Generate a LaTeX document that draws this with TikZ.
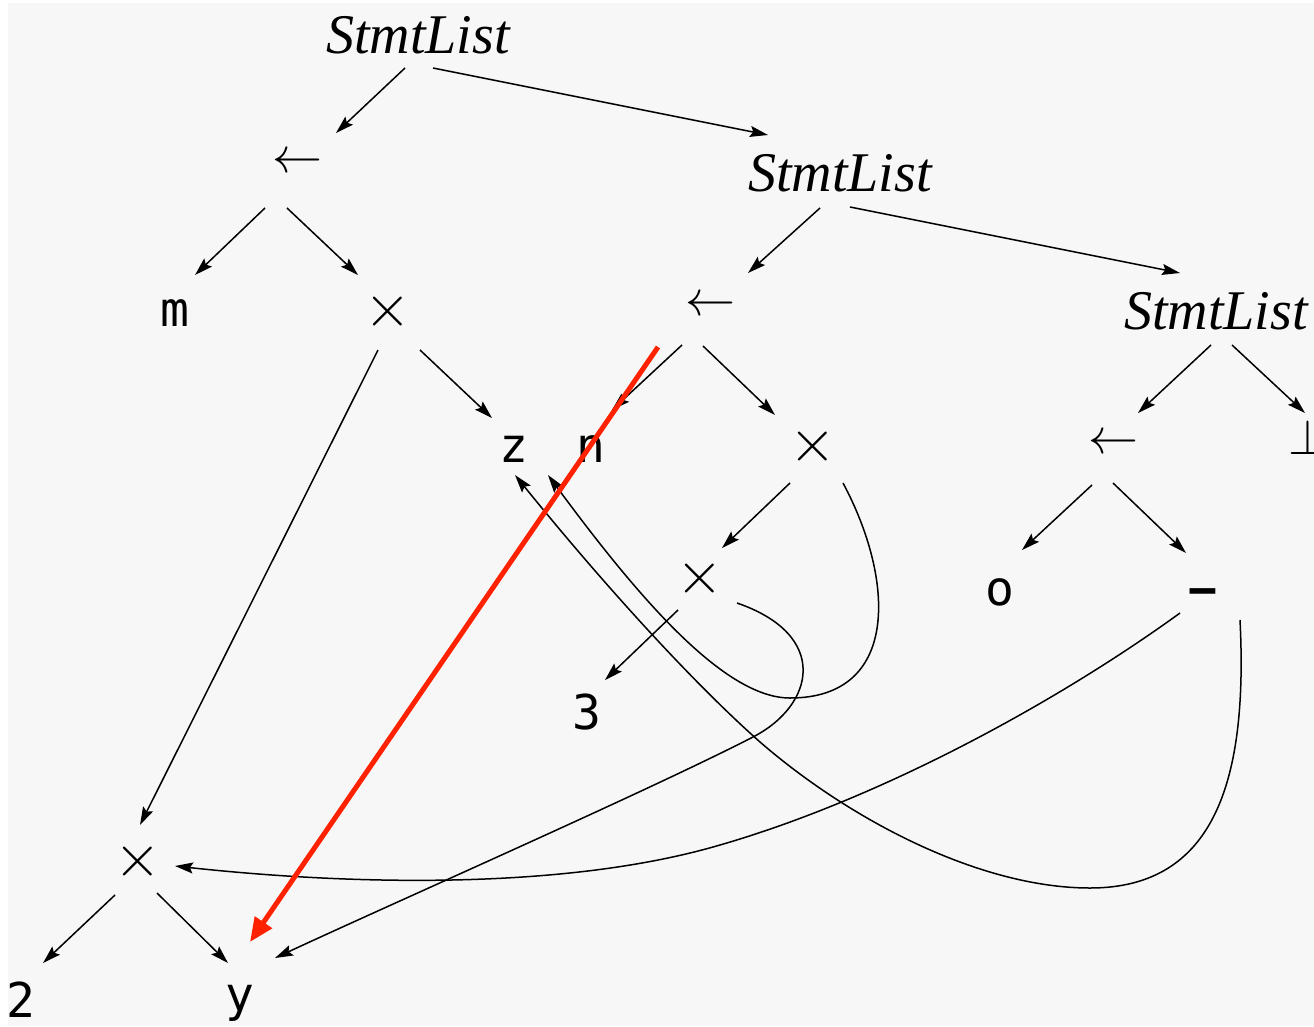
\RequirePackage{fix-cm}
\documentclass[tikz,border=0pt]{standalone}
\usepackage{fontspec}
\usetikzlibrary{calc,arrows.meta}
\newfontfamily\slfont{Liberation Serif}
\newfontfamily\vfont{DejaVu Sans Mono}
\definecolor{bggray}{HTML}{F7F7F7}
\definecolor{hlred}{HTML}{FF2200}
\tikzset{
  sltxt/.style={inner sep=0pt, font=\slfont\itshape\fontsize{56}{60}\selectfont},
  varn/.style={inner sep=0pt, font=\vfont\fontsize{48}{50}\selectfont},
  opsym/.style={inner sep=0pt, font=\fontsize{50}{52}\selectfont},
  opx/.style={inner sep=0pt, font=\fontsize{60}{62}\selectfont},
  conn/.style={line width=1.5pt, -{Stealth[length=18pt,width=11pt,inset=3pt]}},
  hlarrow/.style={line width=5pt, color=hlred, -{Triangle[length=24pt,width=20pt]}}
}
\begin{document}
\begin{tikzpicture}[x=1pt,y=-1pt]
\useasboundingbox (0,0) rectangle (1314,1026);
\fill[white] (0,0) rectangle (1314,1026);
\fill[bggray] (8,3) rectangle (1314,1026);

\node[sltxt] (sl1) at (418,35) {StmtList};
\node[opsym] (la1) at (297,163) {$\leftarrow$};
\node[sltxt] (sl2) at (840,173) {StmtList};
\node[varn] (m) at (175,313) {m};
\node[opx] (xa) at (388,311) {$\times$};
\node[opsym] (la2) at (710,306) {$\leftarrow$};
\node[sltxt] (sl3) at (1216,311) {StmtList};
\node[varn] (z) at (514,449) {z};
\node[varn] (n) at (591,449) {n};
\node[opx] (xb) at (813,446) {$\times$};
\node[opsym] (la3) at (1113,444) {$\leftarrow$};
\node[opsym] (bot) at (1308,437) {$\bot$};
\node[opx] (xc) at (700,578) {$\times$};
\node[varn] (o) at (1000,592) {o};
\node[varn, font=\vfont\bfseries\fontsize{48}{50}\selectfont] (minus) at (1203,598) {−};
\node[varn] (three) at (587,712) {3};
\node[opx] (xd) at (138,861) {$\times$};
\node[varn] (two) at (21,1000) {2};
\node[varn] (y) at (240,1003) {y};

% tree edges
\draw[conn] ($(sl1)+(-13,33)$) -- ($(la1)+(39,-30)$);
\draw[conn] ($(sl1)+(15,33)$) -- ($(sl2)+(-72,-38)$);
\draw[conn] ($(la1)+(-32,45)$) -- ($(m)+(20,-38)$);
\draw[conn] ($(la1)+(-10,45)$) -- ($(xa)+(-30,-36)$);
\draw[conn] ($(sl2)+(-20,35)$) -- ($(la2)+(38,-33)$);
\draw[conn] ($(sl2)+(10,34)$) -- ($(sl3)+(-36,-38)$);
\draw[conn] ($(la2)+(-28,39)$) -- ($(n)+(21,-39)$);
\draw[conn] ($(la2)+(-7,40)$) -- ($(xb)+(-38,-31)$);
\draw[conn] ($(xa)+(-10,39)$) -- ($(xd)+(2,-36)$);
\draw[conn] ($(xa)+(32,39)$) -- ($(z)+(-22,-31)$);
\draw[conn] ($(sl3)+(-5,34)$) -- ($(la3)+(25,-31)$);
\draw[conn] ($(sl3)+(16,34)$) -- ($(bot)+(-3,-24)$);
\draw[conn] ($(xb)+(-23,37)$) -- ($(xc)+(22,-30)$);
\draw[conn] ($(la3)+(-21,41)$) -- ($(o)+(22,-42)$);
\draw[conn] ($(la3)+(0,39)$) -- ($(minus)+(-17,-45)$);
\draw[conn] ($(xc)+(-22,32)$) -- ($(three)+(18,-32)$);
\draw[conn] ($(xd)+(-23,34)$) -- ($(two)+(22,-37)$);
\draw[conn] ($(xd)+(19,32)$) -- ($(y)+(-12,-40)$);

% shared (DAG) edges
\draw[conn] ($(xb)+(30,37)$) .. controls (895,580) and (900,698) .. (790,698)
  .. controls (725,698) and (640,600) .. ($(z)+(34,26)$);
\draw[conn] ($(minus)+(37,22)$) .. controls (1248,780) and (1215,888) .. (1090,888)
  .. controls (980,888) and (850,820) .. (760,742)
  .. controls (690,680) and (600,580) .. ($(z)+(1,26)$);
\draw[conn] ($(xc)+(37,25)$) .. controls (830,635) and (815,705) .. (753,737)
  .. controls (650,790) and (400,900) .. ($(y)+(35,-45)$);
\draw[conn] ($(minus)+(-23,15)$) .. controls (1060,700) and (880,800) .. (713,847)
  .. controls (560,890) and (350,885) .. ($(xd)+(37,5)$);

% highlight
\draw[hlarrow] ($(la2)+(-52,41)$) -- ($(y)+(10,-61)$);
\end{tikzpicture}
\end{document}
